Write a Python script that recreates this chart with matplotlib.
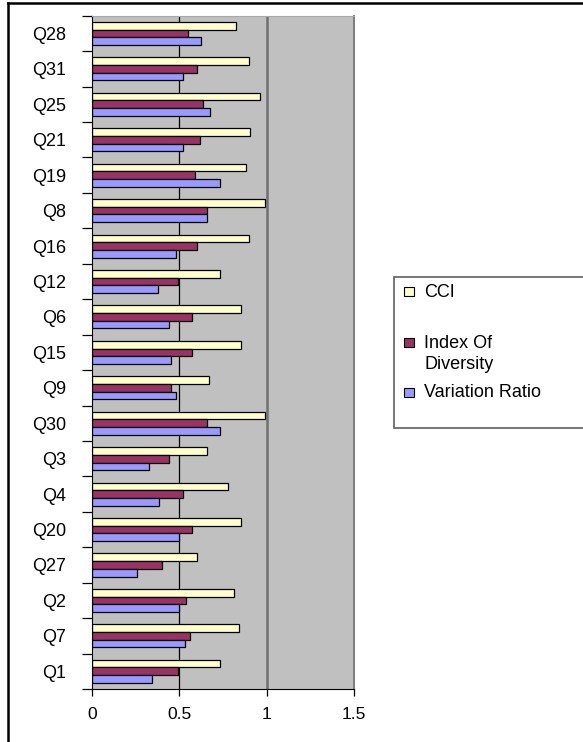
import numpy as np
import matplotlib.pyplot as plt
from matplotlib.patches import Rectangle
from matplotlib.lines import Line2D

plt.rcParams['font.family'] = ['Liberation Sans', 'DejaVu Sans']

# kategorije od spodaj navzgor
vprasanja = ["Q1", "Q7", "Q2", "Q27", "Q20", "Q4", "Q3", "Q30", "Q9", "Q15",
             "Q6", "Q12", "Q16", "Q8", "Q19", "Q21", "Q25", "Q31", "Q28"]
cci = [0.73, 0.84, 0.81, 0.60, 0.85, 0.78, 0.66, 0.99, 0.67, 0.85,
       0.85, 0.73, 0.90, 0.99, 0.88, 0.905, 0.96, 0.90, 0.825]
index_div = [0.49, 0.56, 0.54, 0.40, 0.57, 0.52, 0.44, 0.655, 0.45, 0.57,
             0.57, 0.49, 0.60, 0.655, 0.59, 0.615, 0.635, 0.60, 0.55]
var_ratio = [0.345, 0.53, 0.50, 0.26, 0.50, 0.385, 0.325, 0.73, 0.48, 0.45,
             0.44, 0.375, 0.48, 0.655, 0.73, 0.52, 0.675, 0.52, 0.625]
x_ticks = [0, 0.5, 1, 1.5]

W, H = 583, 742
fig = plt.figure(figsize=(W / 100, H / 100), dpi=100)

def px(x, y):
    # piksli -> koordinate slike
    return x / W, 1 - y / H

left, right, top, bottom = 92, 354.3, 15.7, 689
ax = fig.add_axes([left / W, 1 - bottom / H, (right - left) / W, (bottom - top) / H])
ax.set_facecolor('#C0C0C0')

y = np.arange(len(vprasanja))
h = 0.217
ax.axvline(0.5, color='black', lw=0.9, zorder=1)
ax.axvline(1.0, color='#707070', lw=1.8, zorder=1)
ax.barh(y + h, cci, height=h, color='#FFFFCC', edgecolor='black', lw=0.9, zorder=2)
ax.barh(y, index_div, height=h, color='#993366', edgecolor='black', lw=0.9, zorder=2)
ax.barh(y - h, var_ratio, height=h, color='#9999FF', edgecolor='black', lw=0.9, zorder=2)

ax.set_xlim(0, 1.5)
ax.set_ylim(-0.5, len(vprasanja) - 0.5)
ax.set_xticks(x_ticks)
ax.set_xticklabels(["0", "0.5", "1", "1.5"], fontsize=12.5)
ax.tick_params(axis='x', direction='out', length=5, width=0.9, pad=8)

ax.set_yticks(np.arange(len(vprasanja) + 1) - 0.5)
ax.set_yticklabels([])
ax.set_yticks(y, minor=True)
ax.set_yticklabels(vprasanja, minor=True, fontsize=13)
ax.tick_params(axis='y', which='major', direction='out', length=7, width=0.9)
ax.tick_params(axis='y', which='minor', length=0, pad=18.5)

ax.spines['left'].set_color('black')
ax.spines['bottom'].set_color('black')
ax.spines['top'].set_color('#A8A8A8')
ax.spines['right'].set_color('#808080')
ax.spines['right'].set_linewidth(1.5)

# legenda
x0, y0 = px(394.3, 427.7)
x1, y1 = px(590, 276.7)
fig.patches.append(Rectangle((x0, y0), x1 - x0, y1 - y0, transform=fig.transFigure,
                             facecolor='white', edgecolor='#606060', lw=1.2))
vnosi = [("CCI", '#FFFFCC', 291.7), ("Index Of\nDiversity", '#993366', 343),
         ("Variation Ratio", '#9999FF', 392.3)]
for besedilo, barva, yc in vnosi:
    rx, ry = px(404, yc + 4.5)
    fig.patches.append(Rectangle((rx, ry), 10 / W, 9 / H, transform=fig.transFigure,
                                 facecolor=barva, edgecolor='black', lw=0.8))
    tx, ty = px(424, yc - 8)
    fig.text(tx, ty, besedilo, fontsize=13, va='top', ha='left', linespacing=1.3)

# okvir slike
fig.lines.append(Line2D([8 / W, 1], [1 - 3 / H, 1 - 3 / H], transform=fig.transFigure,
                        color='black', lw=1.8))
fig.lines.append(Line2D([8 / W, 8 / W], [0, 1 - 3 / H], transform=fig.transFigure,
                        color='black', lw=1.8))

fig.savefig('out.png', dpi=100)
